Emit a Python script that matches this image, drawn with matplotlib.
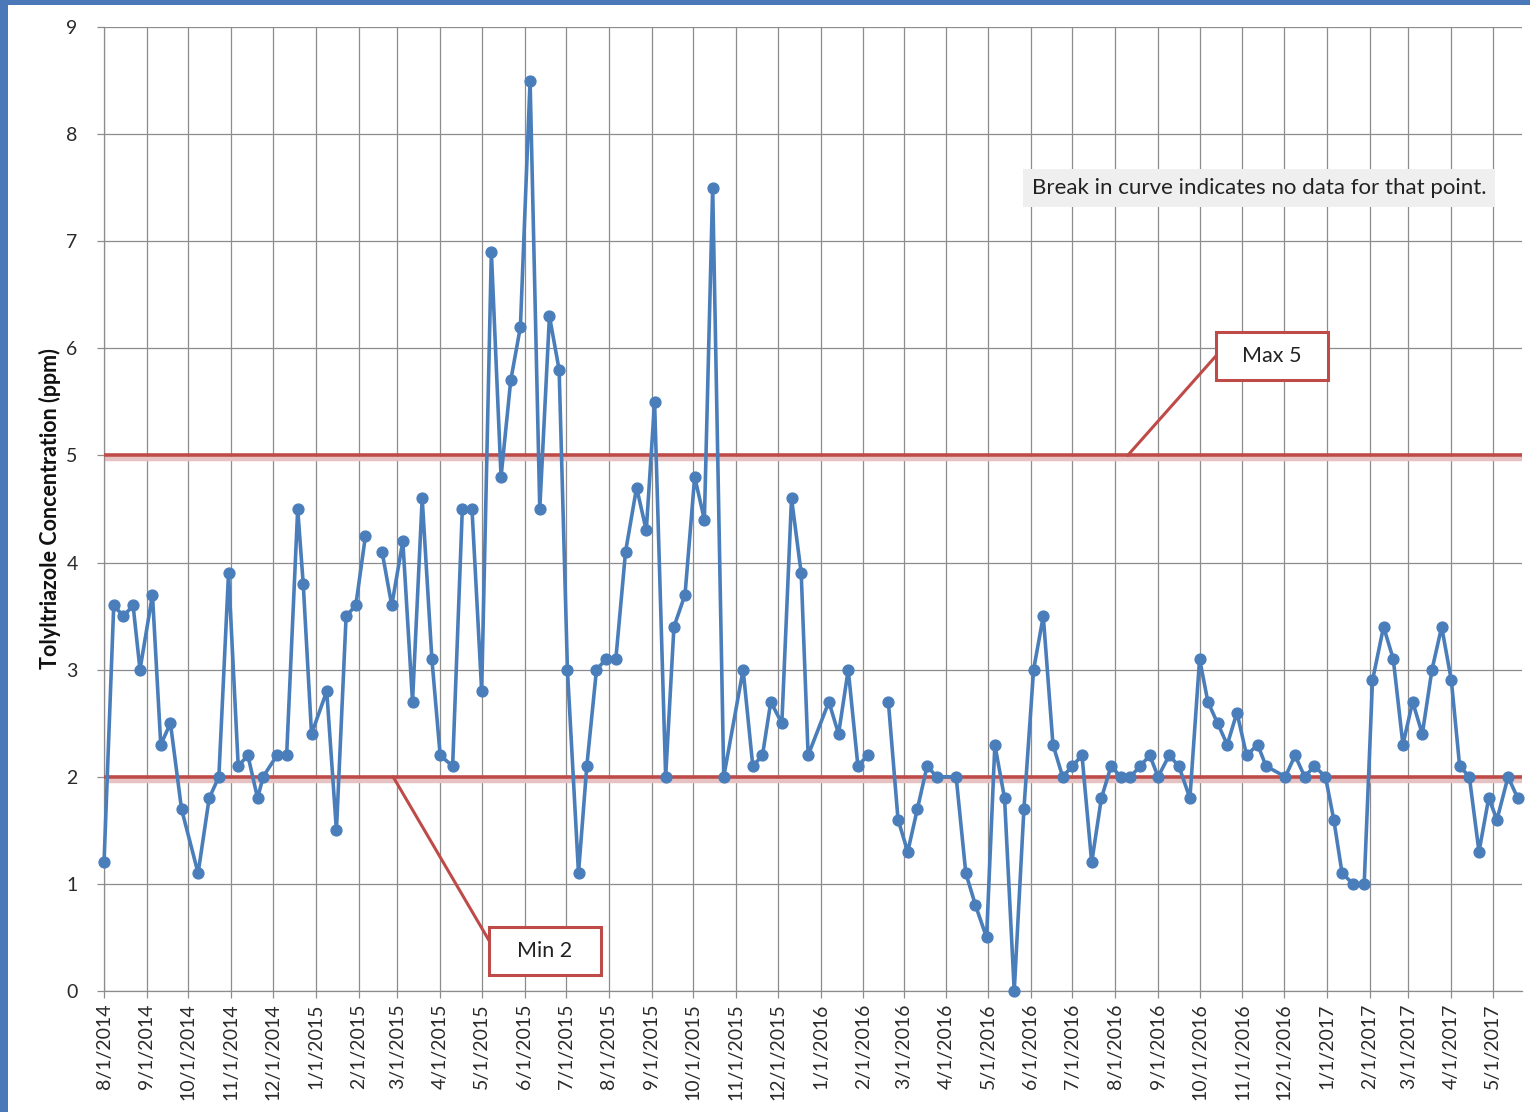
import numpy as np
import pandas as pd
import matplotlib
matplotlib.use("Agg")
import matplotlib.pyplot as plt
import matplotlib.dates as mdates
from matplotlib.patches import Rectangle

plt.rcParams['font.family'] = ['Lato', 'DejaVu Sans']

# ---- data ----
dates = [
    "2014-08-01", "2014-08-08", "2014-08-15", "2014-08-22", "2014-08-27", "2014-09-05", "2014-09-11",
    "2014-09-18", "2014-09-26", "2014-10-08", "2014-10-16", "2014-10-23", "2014-10-30", "2014-11-06",
    "2014-11-13", "2014-11-20", "2014-11-24", "2014-12-04", "2014-12-11", "2014-12-19", "2014-12-23",
    "2014-12-29", "2015-01-09", "2015-01-16", "2015-01-23", "2015-01-30", "2015-02-06", "2015-02-12",
    "2015-02-18", "2015-02-25", "2015-03-05", "2015-03-12", "2015-03-19", "2015-03-26", "2015-04-01",
    "2015-04-10", "2015-04-17", "2015-04-24", "2015-05-01", "2015-05-08", "2015-05-15", "2015-05-22",
    "2015-05-29", "2015-06-05", "2015-06-12", "2015-06-19", "2015-06-26", "2015-07-02", "2015-07-10",
    "2015-07-16", "2015-07-23", "2015-07-30", "2015-08-06", "2015-08-13", "2015-08-21", "2015-08-28",
    "2015-09-03", "2015-09-11", "2015-09-17", "2015-09-25", "2015-10-02", "2015-10-09", "2015-10-15",
    "2015-10-23", "2015-11-06", "2015-11-13", "2015-11-20", "2015-11-26", "2015-12-04", "2015-12-11",
    "2015-12-18", "2015-12-23", "2016-01-07", "2016-01-14", "2016-01-21", "2016-01-28", "2016-02-04",
    "2016-02-11",
    "2016-02-19", "2016-02-26", "2016-03-04", "2016-03-11", "2016-03-18", "2016-03-25", "2016-04-08",
    "2016-04-15", "2016-04-22", "2016-04-30", "2016-05-06", "2016-05-13", "2016-05-20", "2016-05-27",
    "2016-06-03", "2016-06-10", "2016-06-17", "2016-06-24", "2016-07-01", "2016-07-08", "2016-07-15",
    "2016-07-22", "2016-07-29", "2016-08-05", "2016-08-12", "2016-08-19", "2016-08-26", "2016-09-01",
    "2016-09-09", "2016-09-16", "2016-09-24", "2016-10-01", "2016-10-07", "2016-10-14", "2016-10-21",
    "2016-10-28", "2016-11-04", "2016-11-12", "2016-11-18", "2016-12-02", "2016-12-09", "2016-12-16",
    "2016-12-23", "2016-12-31", "2017-01-06", "2017-01-12", "2017-01-20", "2017-01-28", "2017-02-03",
    "2017-02-11", "2017-02-18", "2017-02-25", "2017-03-04", "2017-03-11", "2017-03-18", "2017-03-25",
    "2017-04-01", "2017-04-07", "2017-04-14", "2017-04-21", "2017-04-28", "2017-05-04", "2017-05-12",
    "2017-05-19",
]
concentration = [
    1.2, 3.6, 3.5, 3.6, 3.0, 3.7, 2.3, 2.5, 1.7, 1.1, 1.8, 2.0, 3.9, 2.1, 2.2, 1.8, 2.0, 2.2, 2.2, 4.5,
    3.8, 2.4, 2.8, 1.5, 3.5, 3.6, 4.25, np.nan,
    4.1, 3.6, 4.2, 2.7, 4.6, 3.1, 2.2, 2.1, 4.5, 4.5, 2.8, 6.9, 4.8, 5.7, 6.2, 8.5, 4.5, 6.3, 5.8, 3.0,
    1.1, 2.1, 3.0, 3.1, 3.1, 4.1, 4.7, 4.3, 5.5, 2.0, 3.4, 3.7, 4.8, 4.4, 7.5, 2.0, 3.0, 2.1, 2.2, 2.7,
    2.5, 4.6, 3.9, 2.2, 2.7, 2.4, 3.0, 2.1, 2.2, np.nan,
    2.7, 1.6, 1.3, 1.7, 2.1, 2.0, 2.0, 1.1, 0.8, 0.5, 2.3, 1.8, 0.0, 1.7, 3.0, 3.5, 2.3, 2.0, 2.1, 2.2,
    1.2, 1.8, 2.1, 2.0, 2.0, 2.1, 2.2, 2.0, 2.2, 2.1, 1.8, 3.1, 2.7, 2.5, 2.3, 2.6, 2.2, 2.3, 2.1, 2.0,
    2.2, 2.0, 2.1, 2.0, 1.6, 1.1, 1.0, 1.0, 2.9, 3.4, 3.1, 2.3, 2.7, 2.4, 3.0, 3.4, 2.9, 2.1, 2.0, 1.3,
    1.8, 1.6, 2.0, 1.8,
]
max_limit = 5
min_limit = 2
y_label = "Tolyltriazole Concentration (ppm)"
note_text = "Break in curve indicates no data for that point."
max_label = "Max 5"
min_label = "Min 2"

assert len(dates) == len(concentration), (len(dates), len(concentration))
x = pd.to_datetime(dates)
y = np.array(concentration, dtype=float)

# ---- figure ----
fig = plt.figure(figsize=(15.3, 11.12), dpi=100)
ax = fig.add_axes([0.068, 0.1088, 0.9267, 0.8669])

line_blue = "#4A7EBB"
red = "#BE4B48"
grid_c = "#8C8C8C"

# limit lines (with faint shadow)
for lim in (max_limit, min_limit):
    ax.axhline(lim - 0.035, color="#E6C2C2", lw=3.2, zorder=2)
    ax.axhline(lim, color=red, lw=2.6, zorder=3)

ax.plot(x, y, color=line_blue, lw=2.6, marker="o", markersize=7.8,
        markerfacecolor=line_blue, markeredgecolor=line_blue, zorder=4, clip_on=False)

ax.set_xlim(pd.Timestamp("2014-08-01"), pd.Timestamp("2017-05-22"))
ax.set_ylim(0, 9)
ax.set_yticks(range(0, 10))

ax.xaxis.set_major_locator(mdates.MonthLocator())
ax.xaxis.set_major_formatter(mdates.DateFormatter("%-m/%-d/%Y"))

ax.grid(True, color=grid_c, lw=0.9, zorder=0)
ax.set_axisbelow(True)
for s in ("top", "right"):
    ax.spines[s].set_visible(False)
for s in ("left", "bottom"):
    ax.spines[s].set_color(grid_c)
    ax.spines[s].set_linewidth(0.9)

ax.tick_params(axis="both", colors=grid_c, labelcolor="#2A2A2A", labelsize=14,
               length=5, width=0.9)
ax.tick_params(axis="y", pad=14)
ax.tick_params(axis="x", pad=4)
for lbl in ax.get_xticklabels():
    lbl.set_rotation(90)

ax.set_ylabel(y_label, fontsize=15.5, fontweight="bold", color="#111111", labelpad=4)

# note box
ax.text(0.6545, 0.833, note_text, transform=ax.transAxes, fontsize=16, color="#222222",
        ha="left", va="center",
        bbox=dict(boxstyle="square,pad=0.4", facecolor="#EFEFEF", edgecolor="none"),
        zorder=6)

# callouts
def callout(text, cx, cy, w, h, tip_date, tip_y, rel_y):
    rect = Rectangle((cx - w / 2, cy - h / 2), w, h, transform=ax.transAxes,
                     facecolor="white", edgecolor=red, lw=2.2, zorder=7)
    ax.add_patch(rect)
    ax.text(cx, cy, text, transform=ax.transAxes, fontsize=15.5, color="#222222",
            ha="center", va="center", zorder=8)
    ax.annotate("", xy=(mdates.date2num(pd.Timestamp(tip_date)), tip_y), xycoords="data",
                xytext=(cx - w / 2, cy - h / 2 + rel_y * h), textcoords="axes fraction",
                arrowprops=dict(arrowstyle="-", color=red, lw=2.2, shrinkA=0, shrinkB=0),
                zorder=6)

callout(max_label, 0.8237, 0.6588, 0.079, 0.0498, "2016-08-10", max_limit, 0.5)
callout(min_label, 0.311, 0.0415, 0.079, 0.0498, "2015-02-26", min_limit, 0.72)

# screenshot frame
fig.patches.append(Rectangle((0, 0), 0.0052, 1, transform=fig.transFigure,
                             facecolor="#4A78B8", edgecolor="none", zorder=10))
fig.patches.append(Rectangle((0, 0.9955), 1, 0.0045, transform=fig.transFigure,
                             facecolor="#4A78B8", edgecolor="none", zorder=10))

fig.savefig("out.png", dpi=100, facecolor="white")
